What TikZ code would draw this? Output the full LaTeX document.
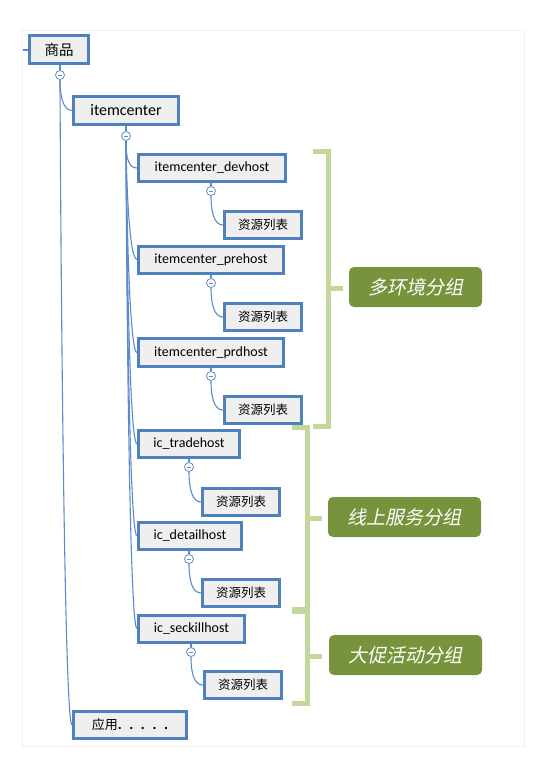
\documentclass[tikz,border=0pt]{standalone}
\usepackage{fontspec}
\setmainfont{Carlito}
\newfontfamily\cjk{Noto Sans CJK SC}
\newfontfamily\cjkit[FakeSlant=0.2]{Noto Sans CJK SC}
\usetikzlibrary{backgrounds}
\definecolor{boxblue}{HTML}{4F81BD}
\definecolor{boxfill}{HTML}{EFEFEF}
\definecolor{connblue}{HTML}{5B8BCB}
\definecolor{brgreen}{HTML}{C3D69B}
\definecolor{grpgreen}{HTML}{77933C}
\definecolor{framegray}{HTML}{F0F0F0}
\begin{document}
\begin{tikzpicture}[x=1pt,y=1pt,
  box/.style={draw=boxblue, line width=3pt, fill=boxfill, inner sep=0pt, minimum height=27pt},
  res/.style={box, minimum width=77pt, font=\cjk\fontsize{12.5}{14}\selectfont},
  host/.style={box, font=\fontsize{14}{16}\selectfont},
  tog/.style={circle, draw=connblue, line width=0.8pt, fill=white, minimum size=9pt, inner sep=0pt,
    path picture={\draw[connblue, line width=0.7pt] ([xshift=-2.3pt]path picture bounding box.center) -- ([xshift=2.3pt]path picture bounding box.center);}},
  conn/.style={draw=connblue, line width=1.1pt},
  curve/.style={out=-90, in=180, out distance=16pt, in distance=9pt},
  brk/.style={draw=brgreen, line width=5pt, line join=miter},
  grp/.style={fill=grpgreen, rounded corners=5pt, text=white, font=\cjkit\fontsize{19}{22}\selectfont, minimum height=40pt, inner sep=0pt},
]
\useasboundingbox (0,0) rectangle (544,-778);
\draw[framegray, line width=0.8pt] (22,-30) rectangle (524,-746);

% level 1/2
\node[box, minimum width=59pt, minimum height=28pt, font=\cjk\fontsize{14.5}{16}\selectfont] (sp) at (59,-50) {商品};
\node[tog] (t0) at (60,-75) {};
\node[box, minimum width=105pt, minimum height=28pt, font=\fontsize{16}{18}\selectfont] (ic) at (126,-110.5) {itemcenter};
\node[tog] (t1) at (126,-136) {};
\node[box, minimum width=113pt, font=\fontsize{13}{15}\selectfont] (yy) at (130,-725) {{\cjk 应用}\textbf{\fontsize{15}{15}\selectfont.\,\,\,.\,\,\,.\,\,\,.\,\,\,.}\hspace{10pt}};

% hosts
\node[host, minimum width=147pt] (dev) at (212,-168) {itemcenter\_devhost};
\node[tog] (t2) at (211,-191) {};
\node[res] (r1) at (263,-225) {资源列表};
\node[host, minimum width=145pt] (pre) at (211,-259.5) {itemcenter\_prehost};
\node[tog] (t3) at (211,-283) {};
\node[res] (r2) at (263,-317) {资源列表};
\node[host, minimum width=145pt, minimum height=28pt] (prd) at (211,-352.5) {itemcenter\_prdhost};
\node[tog] (t4) at (211,-376) {};
\node[res] (r3) at (263,-410) {资源列表};
\node[host, minimum width=101pt] (trade) at (189,-444) {ic\_tradehost};
\node[tog] (t5) at (189,-467) {};
\node[res] (r4) at (241,-502) {资源列表};
\node[host, minimum width=103pt] (detail) at (190,-536) {ic\_detailhost};
\node[tog] (t6) at (189,-559) {};
\node[res] (r5) at (241,-593) {资源列表};
\node[host, minimum width=106pt] (seck) at (191.5,-628.5) {ic\_seckillhost};
\node[tog] (t7) at (191,-652) {};
\node[res] (r6) at (243,-685) {资源列表};

% group labels
\node[grp, minimum width=133pt] (g1) at (415.5,-287) {多环境分组};
\node[grp, minimum width=153pt] (g2) at (404.5,-517) {线上服务分组};
\node[grp, minimum width=153pt] (g3) at (405.5,-655) {大促活动分组};

\coordinate (stub) at (22,-50);
\coordinate (b1a) at (313,-152);
\coordinate (b1b) at (328,-152);
\coordinate (b1c) at (328,-426);
\coordinate (b1d) at (313,-426);
\coordinate (b1m) at (328,-288);
\coordinate (b1t) at (343,-288);
\coordinate (b2a) at (292,-427);
\coordinate (b2b) at (307,-427);
\coordinate (b2c) at (307,-609);
\coordinate (b2d) at (292,-609);
\coordinate (b2m) at (307,-518);
\coordinate (b2t) at (322,-518);
\coordinate (b3a) at (292,-611);
\coordinate (b3b) at (307,-611);
\coordinate (b3c) at (307,-703);
\coordinate (b3d) at (292,-703);
\coordinate (b3m) at (307,-656);
\coordinate (b3t) at (322,-656);

\begin{scope}[on background layer]
  \draw[conn] (stub) -- (sp.west);
  \draw[conn] (t0.north |- sp.south) -- (t0.north);
  \draw[conn] (t1.north |- ic.south) -- (t1.north);
  \draw[conn] (t2.north |- dev.south) -- (t2.north);
  \draw[conn] (t3.north |- pre.south) -- (t3.north);
  \draw[conn] (t4.north |- prd.south) -- (t4.north);
  \draw[conn] (t5.north |- trade.south) -- (t5.north);
  \draw[conn] (t6.north |- detail.south) -- (t6.north);
  \draw[conn] (t7.north |- seck.south) -- (t7.north);
  \draw[conn] (t0.south) to[curve] (ic.west);
  \draw[conn] (t0.south) to[curve] (yy.west);
  \draw[conn] (t1.south) to[curve] (dev.west);
  \draw[conn] (t1.south) to[curve] (pre.west);
  \draw[conn] (t1.south) to[curve] (prd.west);
  \draw[conn] (t1.south) to[curve] (trade.west);
  \draw[conn] (t1.south) to[curve] (detail.west);
  \draw[conn] (t1.south) to[curve] (seck.west);
  \draw[conn] (t2.south) to[curve] (r1.west);
  \draw[conn] (t3.south) to[curve] (r2.west);
  \draw[conn] (t4.south) to[curve] (r3.west);
  \draw[conn] (t5.south) to[curve] (r4.west);
  \draw[conn] (t6.south) to[curve] (r5.west);
  \draw[conn] (t7.south) to[curve] (r6.west);
\end{scope}

\draw[brk] (b1a) -- (b1b) -- (b1c) -- (b1d);
\draw[brk] (b1m) -- (b1t);
\draw[brk] (b2a) -- (b2b) -- (b2c) -- (b2d);
\draw[brk] (b2m) -- (b2t);
\draw[brk] (b3a) -- (b3b) -- (b3c) -- (b3d);
\draw[brk] (b3m) -- (b3t);
\end{tikzpicture}
\end{document}
